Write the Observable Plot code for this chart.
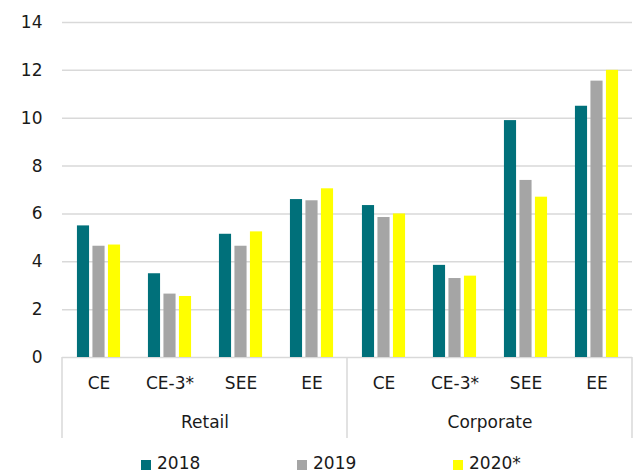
<!DOCTYPE html>
<html><head><meta charset="utf-8">
<script src="https://cdn.jsdelivr.net/npm/d3@7"></script>
<script src="https://cdn.jsdelivr.net/npm/@observablehq/plot@0.6"></script>
<style>
body{margin:0;background:#fff;font-family:"DejaVu Sans",sans-serif;}
#legend{display:flex;height:22px;align-items:center;padding-left:141px;padding-top:4px;font-size:17px;line-height:17px;color:#1a1a1a;}
.item{display:flex;align-items:center;width:156px;}
.sw{width:10px;height:10px;margin-right:6px;margin-top:3px;}
</style></head><body>
<div id="chart"></div><div id="legend"></div>
<script>
const segments = ["Retail", "Corporate"];
const regions = ["CE", "CE-3*", "SEE", "EE"];
const years = ["2018", "2019", "2020*"];
const colors = ["#00707a", "#a5a5a5", "#ffff00"];
const v2018 = [5.5, 3.5, 5.15, 6.6, 6.35, 3.85, 9.9, 10.5];
const v2019 = [4.65, 2.65, 4.65, 6.55, 5.85, 3.3, 7.4, 11.55];
const v2020 = [4.7, 2.55, 5.25, 7.05, 6.0, 3.4, 6.7, 12.0];
const yTicks = [0, 2, 4, 6, 8, 10, 12, 14];

const series = [v2018, v2019, v2020];
const data = [];
segments.forEach((s, i) => regions.forEach((r, j) => years.forEach((yr, k) => {
  data.push({segment: s, region: r, year: yr, value: series[k][i * 4 + j]});
})));

const W = 634, H = 448, mL = 61, mR = 2, mT = 22, mB = 91;
const band = (W - mL - mR) / 8, bw = 12.5, gap = 3;
const start = (band - (3 * bw + 2 * gap)) / 2;

const chart = Plot.plot({
  width: W, height: H, marginLeft: mL, marginRight: mR, marginTop: mT, marginBottom: mB,
  style: {fontFamily: "DejaVu Sans, sans-serif", fontSize: "17px", color: "#1a1a1a", background: "#fff"},
  fx: {domain: segments, padding: 0, label: null},
  x: {domain: regions, padding: 0, label: null},
  y: {domain: [0, 14], label: null},
  marks: [
    Plot.gridY(yTicks, {stroke: "#d9d9d9", strokeOpacity: 1, strokeWidth: 1.5}),
    Plot.axisY(yTicks, {tickSize: 0, tickPadding: 20, label: null}),
    Plot.axisX({tickSize: 0, tickPadding: 19, label: null}),
    Plot.axisFx({anchor: "bottom", tickSize: 0, tickPadding: 58, label: null}),
    ...years.map((yr, k) => Plot.barY(data.filter(d => d.year === yr), {
      fx: "segment", x: "region", y: "value", fill: colors[k],
      insetLeft: start + k * (bw + gap),
      insetRight: band - (start + k * (bw + gap)) - bw
    }))
  ]
});
document.getElementById("chart").appendChild(chart);

// group separators derived from scales
const fx = chart.scale("fx"), y = chart.scale("y");
const y0 = y.apply(0), y1 = y0 + 81;
const xs = [fx.apply("Retail"), fx.apply("Corporate"), fx.apply("Corporate") + fx.bandwidth];
const off = mL - Math.min(...fx.range);
d3.select(chart).append("g").selectAll("line").data(xs).join("line")
  .attr("x1", d => d + off).attr("x2", d => d + off)
  .attr("y1", y0).attr("y2", y1)
  .attr("stroke", "#d9d9d9").attr("stroke-width", 1.5);

const leg = d3.select("#legend");
years.forEach((yr, k) => {
  const it = leg.append("div").attr("class", "item");
  it.append("div").attr("class", "sw").style("background", colors[k]);
  it.append("span").text(yr);
});
</script></body></html>
